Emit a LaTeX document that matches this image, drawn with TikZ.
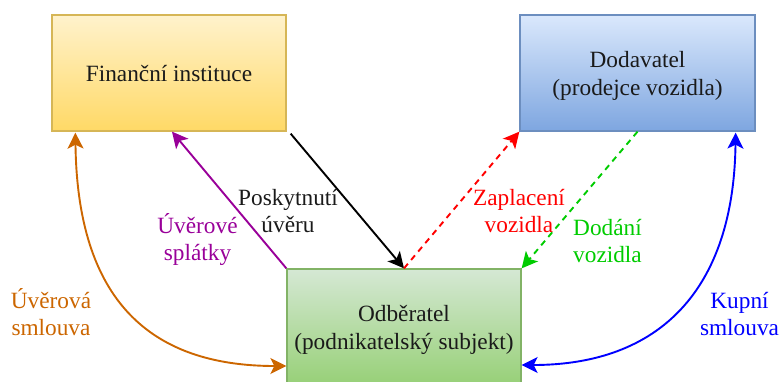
\documentclass[tikz,border=0pt]{standalone}
\usepackage{fontspec}
\setmainfont{Liberation Serif}
\usetikzlibrary{arrows.meta,calc,shadings}
\definecolor{txt}{HTML}{1A1A1A}
\definecolor{finTop}{HTML}{FFF2CC}
\definecolor{finBot}{HTML}{FFD966}
\definecolor{finLine}{HTML}{D6B656}
\definecolor{dodTop}{HTML}{DAE8FC}
\definecolor{dodBot}{HTML}{7EA6E0}
\definecolor{dodLine}{HTML}{6C8EBF}
\definecolor{odbTop}{HTML}{D5E8D4}
\definecolor{odbBot}{HTML}{97D077}
\definecolor{odbLine}{HTML}{82B366}
\definecolor{cOrange}{HTML}{CC6600}
\definecolor{cPurple}{HTML}{990099}
\definecolor{cRed}{HTML}{FF0000}
\definecolor{cGreen}{HTML}{00CC00}
\definecolor{cBlue}{HTML}{0000FF}
\newcommand{\lowtext}[1]{\raisebox{-3.2pt}[\height][\depth]{\begin{tabular}{@{}c@{}}#1\end{tabular}}}
\newcommand{\lbltext}[1]{\begin{tabular}[t]{@{}c@{}}#1\end{tabular}}
\begin{document}
\begin{tikzpicture}[x=1pt,y=-1pt,
  box/.style={draw, line width=1.3pt, minimum width=234pt, minimum height=116pt,
    inner sep=0pt, font=\fontsize{23.3}{27.5}\selectfont, text=txt},
  lbl/.style={anchor=base, inner sep=0pt, font=\fontsize{23.3}{27.5}\selectfont},
  conn/.style={line width=1.9pt, -{Stealth[length=16pt,width=16pt,inset=4pt]}},
  dconn/.style={conn, dash pattern=on 6pt off 5pt},
  twoway/.style={line width=1.9pt, {Stealth[length=16pt,width=16pt,inset=4pt]}-{Stealth[length=16pt,width=16pt,inset=4pt]}}
]
\path[use as bounding box, clip] (0,0) rectangle (781,381);

\node[box, draw=finLine, top color=finTop, bottom color=finBot] (fin) at (169,73)
  {\lowtext{Finanční instituce}};
\node[box, draw=dodLine, top color=dodTop, bottom color=dodBot, minimum width=235pt] (dod) at (637.5,73)
  {\lowtext{Dodavatel\\(prodejce vozidla)}};
\node[box, draw=odbLine, top color=odbTop, bottom color=odbBot] (odb) at (404,327)
  {\lowtext{Odběratel\\(podnikatelský subjekt)}};

% connectors
\draw[conn, black] ([xshift=4pt,yshift=-2pt]fin.south east) -- (odb.north);
\draw[conn, cPurple] (odb.north west) -- ([xshift=3pt]fin.south);
\draw[dconn, cRed] (odb.north) -- (dod.south west);
\draw[dconn, cGreen] (dod.south) -- (odb.north east);
\draw[twoway, cOrange] ($(fin.south west)+(24,1)$) .. controls +(2,167) and +(-137,0) .. ($(odb.west)+(0,39)$);
\draw[twoway, cBlue] ($(dod.south east)+(-20,1)$) .. controls +(-2,157) and +(138,0) .. ($(odb.east)+(0,38)$);

% labels
\node[lbl, text=txt] (lposk) at (288,205) {\lbltext{Poskytnutí\\úvěru}};
\node[lbl, text=cPurple] (lsplat) at (197.5,233) {\lbltext{Úvěrové\\splátky}};
\node[lbl, text=cOrange] (luver) at (51,308) {\lbltext{Úvěrová\\smlouva}};
\node[lbl, text=cRed] (lzapl) at (519,205) {\lbltext{Zaplacení\\vozidla}};
\node[lbl, text=cGreen] (ldod) at (607.5,235) {\lbltext{Dodání\\vozidla}};
\node[lbl, text=cBlue] (lkup) at (739.5,308) {\lbltext{Kupní\\smlouva}};
\end{tikzpicture}
\end{document}
